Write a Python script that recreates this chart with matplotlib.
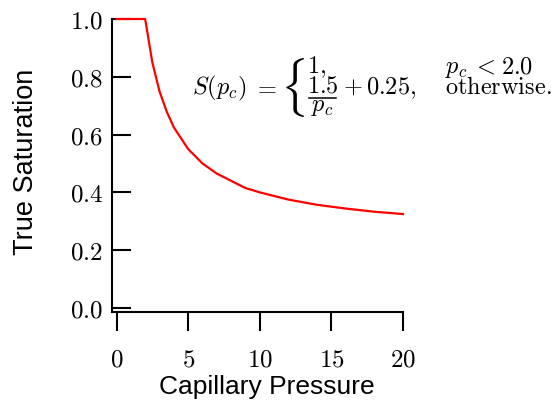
import numpy as np
import matplotlib
matplotlib.use('Agg')
import matplotlib.pyplot as plt
from matplotlib.lines import Line2D

# ── data ─────────────────────────────────────────────────────────────────────
pc  = [0, 1, 2, 2.5, 3, 3.5, 4, 5, 6, 7, 8, 9, 10, 12, 14, 16, 18, 20]
sat = [1.0, 1.0, 1.0, 0.85, 0.75, 0.68, 0.625, 0.55, 0.50, 0.465, 0.44,
       0.415, 0.40, 0.375, 0.357, 0.344, 0.333, 0.325]
xticks = [0, 5, 10, 15, 20]
yticks = [0.0, 0.2, 0.4, 0.6, 0.8, 1.0]
xticklabels = ['0', '5', '10', '15', '20']
yticklabels = ['0.0', '0.2', '0.4', '0.6', '0.8', '1.0']

plt.rcParams['mathtext.fontset'] = 'cm'
plt.rcParams['font.family'] = ['Liberation Sans', 'DejaVu Sans']

W, H = 556, 408
fig = plt.figure(figsize=(W / 100, H / 100), dpi=100)

def px(x, y):
    return x / W, 1 - y / H

left, right, top, bottom = 111.5, 403, 19, 312
ax = fig.add_axes([left / W, (H - bottom) / H, (right - left) / W, (bottom - top) / H])

ax.plot(pc, sat, color='red', lw=1.6, clip_on=False)

ax.set_xlim(-0.35, 20)
ax.set_ylim(-0.014, 1.0)
ax.set_xticks(xticks)
ax.set_yticks(yticks)
ax.set_xticklabels(['$%s$' % t for t in xticklabels], fontsize=18)
ax.set_yticklabels(['$%s$' % t for t in yticklabels], fontsize=18)

for s in ['top', 'right']:
    ax.spines[s].set_visible(False)
for s in ['left', 'bottom']:
    ax.spines[s].set_linewidth(1.5)

ax.tick_params(axis='x', direction='out', length=13.5, width=1.5, pad=12)
ax.tick_params(axis='y', direction='in', length=14, width=1.5, pad=6)

fig.text(*px(267, 387), 'Capillary Pressure', fontsize=19, ha='center', va='center')
fig.text(*px(26, 162), 'True Saturation', fontsize=19.5, ha='center', va='center', rotation=90)

# ── equation (pieces placed one by one, mathtext has no cases env) ──────────
fs = 17.5
r1, r2 = 73, 94
fig.text(*px(192, 88), r'$S(p_c)$', fontsize=fs, ha='left', va='center')
fig.text(*px(277, 88), r'$=$', fontsize=fs, ha='right', va='center')
fig.text(*px(292.5, 87.5), r'$\{$', fontsize=35, ha='center', va='center')
fig.text(*px(307, r1), r'$1,$', fontsize=fs, ha='left', va='baseline')
fig.text(*px(322.5, 92.5), r'$1.5$', fontsize=fs, ha='center', va='baseline')
fig.add_artist(Line2D([309 / W, 336 / W], [1 - 97.5 / H, 1 - 97.5 / H], color='black', lw=1.1))
fig.text(*px(322, 111.5), r'$p_c$', fontsize=fs, ha='center', va='baseline')
fig.text(*px(352.5, r2), r'$+$', fontsize=fs, ha='center', va='baseline')
fig.text(*px(366, r2), r'$0.25,$', fontsize=fs, ha='left', va='baseline')
fig.text(*px(445, r1), r'$p_c$', fontsize=fs, ha='left', va='baseline')
fig.text(*px(484, r1), r'$<$', fontsize=fs, ha='center', va='baseline')
fig.text(*px(533, r1), r'$2.0$', fontsize=fs, ha='right', va='baseline')
fig.text(*px(445, r2), r'$\mathrm{otherwise.}$', fontsize=fs, ha='left', va='baseline')

fig.savefig('out.png', dpi=100)
